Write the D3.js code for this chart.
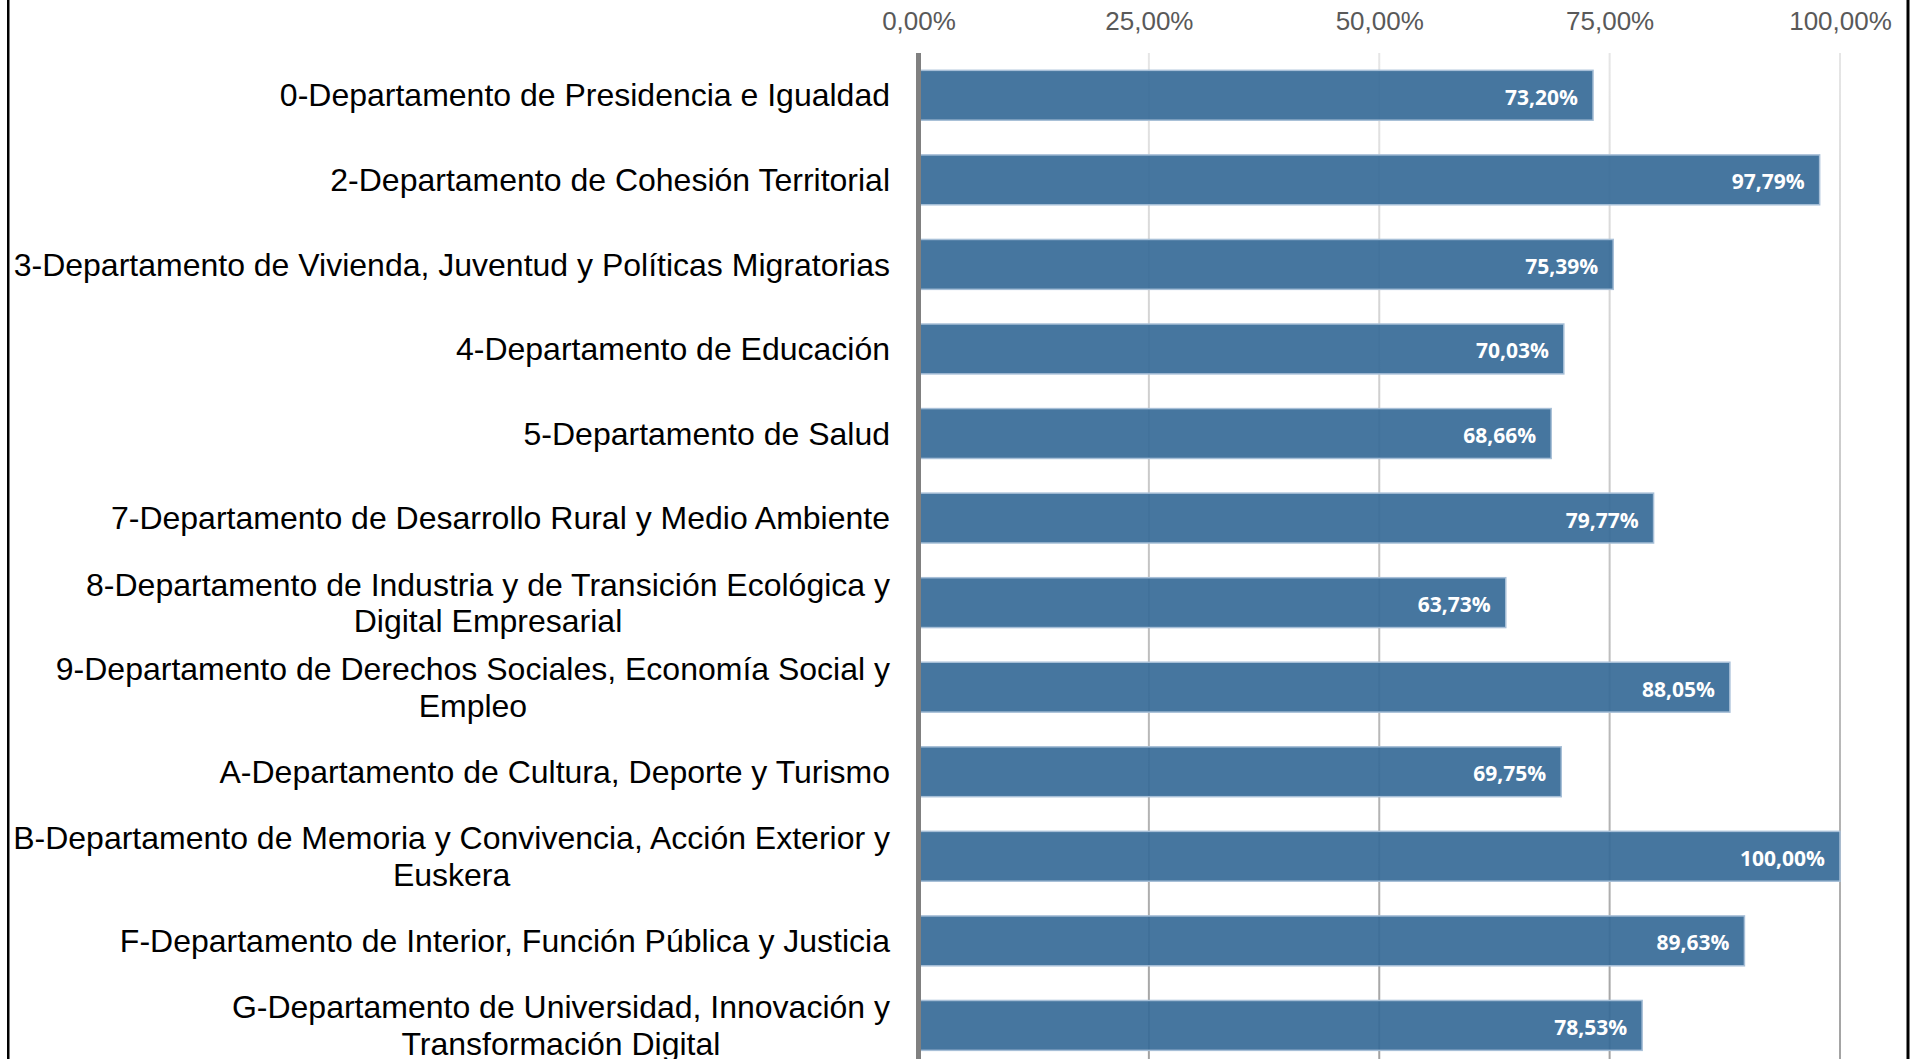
<!DOCTYPE html>
<html>
<head>
<meta charset="utf-8">
<script src="https://cdn.jsdelivr.net/npm/d3@7"></script>
<style>
  body { margin: 0; background: #fff; }
  svg { display: block; }
</style>
</head>
<body>
<div id="chart"></div>
<script>
// categories (line breaks as in the original wrapped labels)
const departments = [
    "0-Departamento de Presidencia e Igualdad",
    "2-Departamento de Cohesión Territorial",
    "3-Departamento de Vivienda, Juventud y Políticas Migratorias",
    "4-Departamento de Educación",
    "5-Departamento de Salud",
    "7-Departamento de Desarrollo Rural y Medio Ambiente",
    "8-Departamento de Industria y de Transición Ecológica y\nDigital Empresarial",
    "9-Departamento de Derechos Sociales, Economía Social y\nEmpleo",
    "A-Departamento de Cultura, Deporte y Turismo",
    "B-Departamento de Memoria y Convivencia, Acción Exterior y\nEuskera",
    "F-Departamento de Interior, Función Pública y Justicia",
    "G-Departamento de Universidad, Innovación y\nTransformación Digital"
];
const shares = [0.7320, 0.9779, 0.7539, 0.7003, 0.6866, 0.7977, 0.6373, 0.8805, 0.6975, 1.0000, 0.8963, 0.7853];
const xTicks = [0, 0.25, 0.5, 0.75, 1];

const width = 1914, height = 1059;
const labelRight = 890;

const pct = d => (d * 100).toFixed(2).replace('.', ',') + '%';

const svg = d3.select("#chart")
    .append("svg")
    .attr("width", width)
    .attr("height", height);

const x = d3.scaleLinear()
    .domain([0, 1])
    .range([918.5, 1840]);

const y = d3.scaleBand()
    .domain(departments)
    .range([53, 1067.7])
    .paddingInner(0.41)
    .paddingOuter(0.205);

// gridlines fade from light at the top to darker at the bottom
const grad = svg.append("defs").append("linearGradient")
    .attr("id", "gridGrad")
    .attr("gradientUnits", "userSpaceOnUse")
    .attr("x1", 0).attr("y1", 53)
    .attr("x2", 0).attr("y2", height);
grad.append("stop").attr("offset", "0%").attr("stop-color", "#e6e6e6");
grad.append("stop").attr("offset", "100%").attr("stop-color", "#a3a3a3");

svg.selectAll(".grid")
    .data(xTicks.slice(1))
    .join("rect")
    .attr("class", "grid")
    .attr("x", d => x(d) - 1)
    .attr("y", 53)
    .attr("width", 2)
    .attr("height", height - 53)
    .attr("fill", "url(#gridGrad)");

// tick labels along the top
svg.append("g")
    .attr("transform", "translate(0,30)")
    .call(d3.axisTop(x).tickValues(xTicks).tickSize(0).tickPadding(0).tickFormat(pct))
    .call(g => g.select(".domain").remove())
    .selectAll("text")
    .attr("fill", "#595959")
    .style("font-family", "'Liberation Sans', Arial, sans-serif")
    .style("font-size", "26px")
    .attr("dy", 0);

// bars
svg.selectAll(".bar")
    .data(departments)
    .join("rect")
    .attr("class", "bar")
    .attr("x", x(0))
    .attr("y", d => y(d))
    .attr("width", (d, i) => x(shares[i]) - x(0))
    .attr("height", y.bandwidth())
    .attr("fill", "#366a97")
    .attr("fill-opacity", 0.92)
    .attr("stroke", "#a7bfd7")
    .attr("stroke-width", 1.5);

// value labels inside the bar ends
svg.selectAll(".value")
    .data(departments)
    .join("text")
    .attr("class", "value")
    .attr("x", (d, i) => x(shares[i]) - 15)
    .attr("y", d => y(d) + y.bandwidth() / 2)
    .attr("dy", "0.45em")
    .attr("text-anchor", "end")
    .attr("fill", "#fff")
    .style("font-family", "'Open Sans', sans-serif")
    .style("font-weight", "bold")
    .style("font-size", "21px")
    .text((d, i) => pct(shares[i]));

// category axis line
svg.append("rect")
    .attr("x", x(0) - 2.5)
    .attr("y", 53)
    .attr("width", 5)
    .attr("height", height - 53)
    .attr("fill", "#808080");

// category labels, multi-line ones centred on their widest line
const labels = svg.selectAll(".cat")
    .data(departments)
    .join("text")
    .attr("class", "cat")
    .attr("fill", "#000")
    .style("font-family", "'Liberation Sans', Arial, sans-serif")
    .style("font-size", "32px");

labels.each(function(d) {
    const t = d3.select(this);
    const lines = d.split("\n");
    const cy = y(d) + y.bandwidth() / 2;
    const lh = 36.6;
    lines.forEach((ln, k) => {
        t.append("tspan")
            .attr("y", cy + (k - (lines.length - 1) / 2) * lh)
            .attr("dy", "0.35em")
            .text(ln);
    });
    if (lines.length === 1) {
        t.attr("text-anchor", "end").selectAll("tspan").attr("x", labelRight);
    } else {
        const w = d3.max(t.selectAll("tspan").nodes(), n => n.getComputedTextLength());
        t.attr("text-anchor", "middle").selectAll("tspan").attr("x", labelRight - w / 2);
    }
});

// frame edges
svg.append("rect").attr("x", 7).attr("y", 0).attr("width", 2.5).attr("height", height).attr("fill", "#000");
svg.append("rect").attr("x", 1906.5).attr("y", 0).attr("width", 3).attr("height", height).attr("fill", "#000");
</script>
</body>
</html>
